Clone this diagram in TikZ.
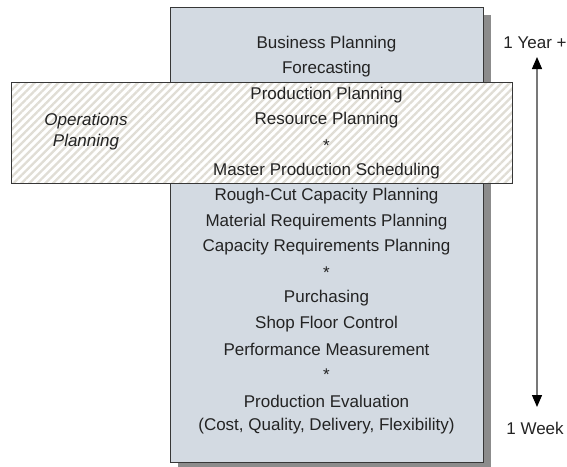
\documentclass[tikz,border=0pt]{standalone}
\usepackage{fontspec}
\setmainfont{Liberation Sans}
\usetikzlibrary{arrows.meta,patterns.meta}
\definecolor{boxfill}{RGB}{211,218,226}
\definecolor{boxline}{RGB}{55,55,55}
\definecolor{shadowc}{RGB}{140,140,140}
\definecolor{hatchc}{RGB}{224,221,213}
\definecolor{txt}{RGB}{35,35,35}
\definecolor{arrowc}{RGB}{120,120,120}
\tikzset{
  lbl/.style={text=txt, font=\fontsize{17}{20}\selectfont, inner sep=0pt, anchor=center},
  ilbl/.style={lbl, font=\fontsize{17}{20}\selectfont\itshape},
  mainbox/.style={draw=boxline, line width=1pt, fill=boxfill},
  hatchbox/.style={draw=boxline, line width=1pt},
}
\begin{document}
\begin{tikzpicture}[x=1pt,y=-1pt]
\useasboundingbox (0,0) rectangle (567,466);
% shadow and main box
\fill[shadowc] (178,15) rectangle (491,475);
\draw[mainbox] (170,7) rectangle (483,462);
\node[inner sep=0pt, minimum width=313pt, minimum height=455pt] (main) at (326.5,234.5) {};
% hatched box
\fill[white] (11,82) rectangle (512,183);
\fill[pattern={Lines[angle=45,distance=5.6pt,line width=2.3pt]}, pattern color=hatchc] (11,82) rectangle (512,183);
\draw[hatchbox] (11,82) rectangle (512,183);
\node[inner sep=0pt, minimum width=501pt, minimum height=101pt] (ops) at (261.5,132.5) {};
% texts
\node[lbl] (t1) at (326.5,44) {Business Planning};
\node[lbl] (t2) at (326.5,69.5) {Forecasting};
\node[lbl] (t3) at (326.5,95) {Production Planning};
\node[lbl] (t4) at (326.5,120.5) {Resource Planning};
\node[lbl] (s1) at (326.5,146) {*};
\node[lbl] (t5) at (326.5,171) {Master Production Scheduling};
\node[lbl] (t6) at (326.5,196.5) {Rough-Cut Capacity Planning};
\node[lbl] (t7) at (326.5,222) {Material Requirements Planning};
\node[lbl] (t8) at (326.5,247.5) {Capacity Requirements Planning};
\node[lbl] (s2) at (326.5,273) {*};
\node[lbl] (t9) at (326.5,298.5) {Purchasing};
\node[lbl] (t10) at (326.5,324) {Shop Floor Control};
\node[lbl] (t11) at (326.5,349.5) {Performance Measurement};
\node[lbl] (s3) at (326.5,375) {*};
\node[lbl] (t12) at (326.5,401) {Production Evaluation};
\node[lbl] (t13) at (326.5,426.5) {(Cost, Quality, Delivery, Flexibility)};
\node[ilbl] (opl1) at (86,121) {Operations};
\node[ilbl] (opl2) at (86,142) {Planning};
% time axis
\node[lbl] (yr) at (535,43) {1 Year +};
\node[lbl] (wk) at (535,428) {1 Week};
\coordinate (atop) at (537,57);
\coordinate (abot) at (537,407);
\draw[arrowc, line width=1.3pt, {Triangle[width=10pt,length=12pt,color=black]}-{Triangle[width=10pt,length=12pt,color=black]}] (atop) -- (abot);
\end{tikzpicture}
\end{document}
